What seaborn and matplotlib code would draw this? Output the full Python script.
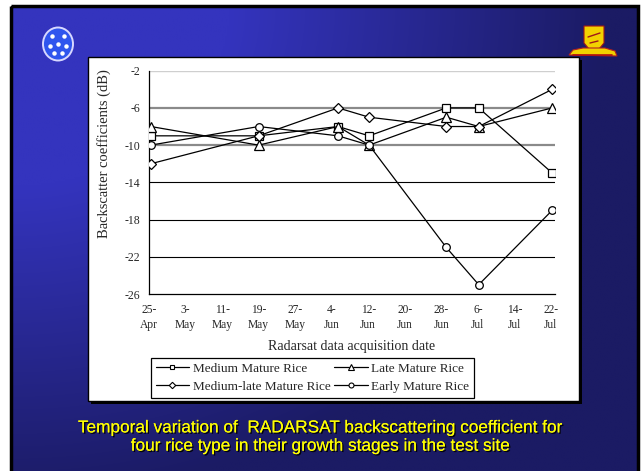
import numpy as np
import pandas as pd
import matplotlib
matplotlib.use("Agg")
import matplotlib.pyplot as plt
import seaborn as sns
from matplotlib.patches import Rectangle, Ellipse, Polygon
from matplotlib.lines import Line2D
import matplotlib.patheffects as pe

# ---------------- data ----------------
tick_days = [0, 8, 16, 24, 32, 40, 48, 56, 64, 72, 80, 88]
tick_labels = ["25-\nApr", "3-\nMay", "11-\nMay", "19-\nMay", "27-\nMay", "4-\nJun",
               "12-\nJun", "20-\nJun", "28-\nJun", "6-\nJul", "14-\nJul", "22-\nJul"]
obs_days = [0.4, 24, 41.4, 48.2, 65.1, 72.2, 88.3]   # days after 25-Apr
medium = [-9, -9, -8, -9, -6, -6, -13]
late = [-8, -10, -8, -10, -7, -8, -6]
medium_late = [-12, -9, -6, -7, -8, -8, -4]
early = [-10, -8, -9, -10, -21, -25, -17]
series_names = ["Medium Mature Rice", "Late Mature Rice",
                "Medium-late Mature Rice", "Early Mature Rice"]
y_ticks = [-26, -22, -18, -14, -10, -6, -2]
y_tick_labels = ["-26", "-22", "-18", "-14", "-10", "-6", "-2"]
x_title = "Radarsat data acquisition date"
y_title = "Backscatter coefficients (dB)"
caption = ("Temporal variation of  RADARSAT backscattering coefficient for\n"
           "four rice type in their growth stages in the test site")

df = pd.DataFrame({
    "day": obs_days * 4,
    "value": medium + late + medium_late + early,
    "series": sum([[n] * len(obs_days) for n in series_names], []),
})

sns.set_style("white")
plt.rcParams["font.family"] = ["Liberation Serif", "DejaVu Serif"]
plt.rcParams["axes.unicode_minus"] = False

W, H = 642, 471
fig = plt.figure(figsize=(W / 100, H / 100), dpi=100)
fig.patch.set_facecolor("white")

# ---------------- slide background ----------------
bg = fig.add_axes([0, 0, 1, 1])
bg.set_xlim(0, W)
bg.set_ylim(H, 0)
bg.axis("off")
xs = np.linspace(0, 1, 320)
ys = np.linspace(0, 1, 240)
X, Y = np.meshgrid(xs, ys)
r = np.sqrt(X ** 2 + (0.9 * Y) ** 2)
t = np.clip((r - 0.35) / 0.6, 0, 1)
bright = np.array([52, 52, 190]) / 255
dark = np.array([27, 27, 100]) / 255
img = bright * (1 - t[..., None]) + dark * t[..., None]
bg.imshow(img, extent=[11, 637, 471, 6], aspect="auto", zorder=0, interpolation="bilinear")
bg.add_patch(Rectangle((10.5, 5.5), 627, 470, fill=False, ec="black", lw=2.5, zorder=1))

# white panel with shadow
bg.add_patch(Rectangle((90.5, 59.5), 491, 344, fc="black", ec="none", zorder=2))
bg.add_patch(Rectangle((88, 57), 491, 344, fc="white", ec="black", lw=1.0, zorder=3))

# left logo (approximation)
bg.add_patch(Ellipse((58, 44), 30, 33, fc="#2f55ee", ec="#d8d8ff", lw=1.4, zorder=4))
for (px, py) in [(52, 36), (64, 36), (50, 46), (66, 46), (54, 53), (62, 53), (58, 44)]:
    bg.plot(px, py, marker="o", ms=2.2, color="white", zorder=5)
# right logo (approximation)
bg.add_patch(Polygon([(584, 26), (604, 26), (604, 43), (599, 49), (589, 49), (584, 43)],
                     closed=True, fc="#f2d200", ec="#a01818", lw=0.8, zorder=4))
bg.add_patch(Polygon([(569, 55), (573, 50), (583, 48), (605, 48), (615, 51), (617, 56)],
                     closed=True, fc="#f2d200", ec="#b02020", lw=0.8, zorder=4))
bg.plot([588, 600], [37, 33], color="#a01818", lw=1.0, zorder=5)
bg.plot([590, 598], [43, 41], color="#a01818", lw=1.0, zorder=5)
bg.plot([573, 612], [55, 55], color="#b01010", lw=1.2, zorder=5)

# caption
bg.text(321, 437, caption, ha="center", va="center", color="#ffff00",
        fontsize=12.4, family=["Liberation Sans", "DejaVu Sans"], linespacing=1.27, zorder=6,
        path_effects=[pe.withSimplePatchShadow(offset=(1, -1), shadow_rgbFace="black", alpha=0.9),
                      pe.Normal()])

# ---------------- chart ----------------
ax = fig.add_axes([149 / W, 1 - 294 / H, 406 / W, 223.3 / H])
ax.set_facecolor("none")
ax.set_zorder(5)

grid_style = {-2: ("#cfcfcf", 1.0), -6: ("#8a8a8a", 1.6), -10: ("#8a8a8a", 1.6),
              -14: ("black", 0.8), -18: ("black", 0.8), -22: ("black", 0.8)}
for yv, (c, lw) in grid_style.items():
    ax.axhline(yv, color=c, lw=lw, zorder=1)

marker_map = {"Medium Mature Rice": ("s", 5.5), "Late Mature Rice": ("^", 6.5),
              "Medium-late Mature Rice": ("D", 5.0), "Early Mature Rice": ("o", 5.5)}
for name in series_names:
    m, ms = marker_map[name]
    sub = df[df["series"] == name]
    sns.lineplot(data=sub, x="day", y="value", ax=ax, color="black", lw=0.9,
                 marker=m, markersize=ms, markerfacecolor="white",
                 markeredgecolor="black", markeredgewidth=0.9, zorder=3, legend=False)

ax.set_xlim(0, 88.9)
ax.set_ylim(-26, -2)
ax.set_xticks(tick_days)
ax.set_xticklabels(tick_labels, fontsize=8.3, linespacing=1.3)
ax.set_yticks(y_ticks)
ax.set_yticklabels(y_tick_labels, fontsize=8.5)
ax.tick_params(axis="x", direction="inout", length=5, width=0.8, pad=5, color="black")
ax.tick_params(axis="y", direction="inout", length=5, width=0.8, pad=4, color="black")
for s in ["top", "right"]:
    ax.spines[s].set_visible(False)
for s in ["left", "bottom"]:
    ax.spines[s].set_color("black")
    ax.spines[s].set_linewidth(0.9)

ax.set_xlabel(x_title, fontsize=10)
ax.set_ylabel(y_title, fontsize=10.5)
ax.xaxis.set_label_coords(0.5, -0.205)
ax.yaxis.set_label_coords(-0.094, 0.627)

# legend (row-major order: Medium, Late / Medium-late, Early)
handles = {}
for name in series_names:
    m, ms = marker_map[name]
    handles[name] = Line2D([], [], color="black", lw=0.9, marker=m, markersize=ms * 0.65,
                           markerfacecolor="white", markeredgecolor="black",
                           markeredgewidth=0.8)
order = ["Medium Mature Rice", "Medium-late Mature Rice", "Late Mature Rice", "Early Mature Rice"]
leg = fig.legend([handles[n] for n in order], order, ncol=2, loc="upper left",
                 bbox_to_anchor=(151 / W, 1 - 358 / H), borderaxespad=0,
                 fontsize=9.5, frameon=True, fancybox=False, framealpha=1,
                 edgecolor="black", handlelength=2.55, handletextpad=0.25,
                 columnspacing=0.3, labelspacing=0.45, borderpad=0.35)
leg.get_frame().set_linewidth(0.9)
leg.set_zorder(10)

fig.savefig("out.png", dpi=100)
